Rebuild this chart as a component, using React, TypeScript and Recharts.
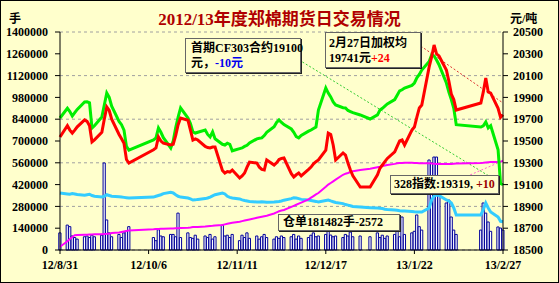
import React from 'react';
import { ComposedChart, Bar, Line, XAxis, YAxis, CartesianGrid, ReferenceLine } from 'recharts';

// trading days, as calendar days counted from 2012-08-31
const tradeDays = [
  0,
  3, 4, 5, 6, 7, 10, 11, 12, 13, 14, 17, 18, 19, 20, 21, 24, 25, 26, 27, 28,
  38, 39, 40, 41, 42, 45, 46, 47, 48, 49, 52, 53, 54, 55, 56, 59, 60, 61,
  62, 63, 66, 67, 68, 69, 70, 73, 74, 75, 76, 77, 80, 81, 82, 83, 84, 87, 88, 89, 90, 91,
  94, 95, 96, 97, 98, 101, 102, 103, 104, 105, 108, 109, 110, 111, 112, 115, 116, 117, 118, 119, 122,
  126, 129, 130, 131, 132, 133, 136, 137, 138, 139, 140, 143, 144, 145, 146, 147, 150, 151, 152, 153,
  154, 157, 158, 159, 160, 161, 171, 172, 173, 174, 175, 178, 179, 180,
];

const tickDays = [0, 36, 72, 108, 144, 180];
const tickLabels = ['12/8/31', '12/10/6', '12/11/11', '12/12/17', '13/1/22', '13/2/27'];
const leftTicks = [0, 140000, 280000, 420000, 560000, 700000, 840000, 980000, 1120000, 1260000, 1400000];
const rightTicks = [18500, 18700, 18900, 19100, 19300, 19500, 19700, 19900, 20100, 20300, 20500];

// 成交量 (手)
const volume = [
  110000,
  160000, 150000, 90000, 80000, 70000, 85000, 90000, 80000, 95000, 85000,
  95000, 559000, 193000, 110000, 85000, 100000, 80000, 110000, 120000, 150000,
  80000, 60000, 130000, 90000, 85000, 100000, 100000, 85000, 237000, 80000,
  110000, 80000, 75000, 95000, 70000, 90000, 80000, 100000,
  70000, 85000, 160000, 90000, 95000, 80000, 100000, 60000, 95000, 80000, 110000, 75000,
  90000, 70000, 85000, 100000, 80000, 70000, 85000, 75000, 90000, 80000,
  85000, 100000, 70000, 90000, 75000, 80000, 95000, 110000, 85000, 90000,
  100000, 140000, 96000, 85000, 90000, 80000, 100000, 90000, 115000, 85000, 90000,
  85000, 110000, 80000, 95000, 75000, 90000, 100000, 128000, 85000, 212000, 100000,
  110000, 120000, 225000, 150000, 128000, 578000, 559000, 597000, 597000,
  400000, 302000, 321000, 212000, 128000, 100000, 128000, 302000, 237000, 180000, 120000,
  148000, 141000, 128000,
];

// 仓单 (手)
const receipts = [
  366000,
  360000, 358000, 362000, 360000, 356000, 352000, 355000, 358000, 350000, 345000,
  340000, 345000, 355000, 350000, 345000, 342000, 340000, 338000, 336000, 334000,
  340000, 345000, 350000, 355000, 362000, 370000, 366000, 355000, 345000, 340000,
  334000, 328000, 321000, 322000, 325000, 330000, 334000, 340000,
  348000, 355000, 366000, 360000, 345000, 338000, 334000, 328000, 322000, 318000, 315000, 312000,
  308000, 308000, 310000, 308000, 306000, 308000, 310000, 312000, 315000, 320000,
  330000, 336000, 334000, 330000, 325000, 321000, 318000, 315000, 312000, 308000,
  318000, 321000, 315000, 310000, 305000, 298000, 292000, 288000, 284000, 280000, 276000,
  272000, 270000, 268000, 266000, 262000, 260000, 257000, 255000, 252000, 250000, 250000,
  247000, 245000, 244000, 244000, 244000, 270000, 321000, 345000, 353000,
  350000, 321000, 315000, 302000, 270000, 225000, 225000, 260000, 302000, 270000, 244000,
  212000, 184054, 181482,
];

// 加权均价 (元/吨)
const weightedAvg = [
  19537,
  19640, 19600, 19573, 19600, 19630, 19693, 19680, 19640, 19491, 19510,
  19580, 19700, 19812, 19780, 19700, 19560, 19520, 19480, 19330, 19298,
  19420, 19436, 19537, 19500, 19480, 19463, 19470, 19550, 19650, 19711,
  19690, 19600, 19509, 19520, 19509, 19450, 19440, 19436,
  19445, 19445, 19230, 19206, 19220, 19215, 19234, 19161, 19180, 19206, 19260, 19307,
  19298, 19260, 19240, 19234, 19326, 19280, 19300, 19330, 19340, 19344,
  19200, 19170, 19190, 19206, 19180, 19240, 19261, 19290, 19310, 19326,
  19417, 19573, 19560, 19463, 19326, 19390, 19370, 19298, 19234, 19180, 19078,
  19078, 19190, 19250, 19280, 19310, 19340, 19400, 19450, 19500, 19509, 19463,
  19600, 19628, 19720, 19803, 19830, 20180, 20271, 20381, 20300,
  20280, 20151, 20050, 19930, 19880, 19784, 19849, 19950, 20078, 19950, 19940,
  19800, 19717, 19741,
];

// 首期合约 (元/吨)
const frontMonth = [
  19711,
  19800, 19770, 19729, 19760, 19790, 19858, 19860, 19850, 19619, 19640,
  19720, 19830, 19940, 19900, 19820, 19680, 19650, 19600, 19450, 19417,
  19510, 19528, 19619, 19580, 19530, 19436, 19500, 19620, 19720, 19803,
  19711, 19660, 19583, 19573, 19580, 19601, 19560, 19537,
  19583, 19520, 19470, 19463, 19480, 19470, 19410, 19430, 19436, 19450, 19460, 19482,
  19520, 19525, 19528, 19550, 19580, 19630, 19670, 19693, 19670, 19650,
  19610, 19580, 19540, 19528, 19550, 19590, 19601, 19615, 19628, 19784,
  19986, 19940, 19904, 19858, 19830, 19805, 19803, 19780, 19770, 19760, 19739,
  19702, 19740, 19784, 19800, 19820, 19840, 19880, 19920, 19960, 19970, 19986,
  20010, 20032, 20080, 20110, 20151, 20230, 20289, 20280, 20243,
  20200, 20032, 19950, 19880, 19800, 19650, 19628, 19640, 19674, 19620, 19640,
  19420, 19110, 19100,
];

// 328指数 (元/吨)
const index328 = [
  18530,
  18580, 18600, 18620, 18635, 18638, 18640, 18640, 18642, 18643, 18645,
  18645, 18647, 18648, 18650, 18655, 18660, 18665, 18670, 18675, 18680,
  18690, 18692, 18693, 18694, 18695, 18697, 18698, 18700, 18700, 18702,
  18705, 18707, 18710, 18711, 18712, 18715, 18718, 18720,
  18722, 18725, 18729, 18735, 18740, 18745, 18750, 18760, 18765, 18770, 18775, 18780,
  18795, 18800, 18805, 18810, 18815, 18835, 18845, 18855, 18862, 18867,
  18895, 18905, 18915, 18925, 18935, 18965, 18980, 18995, 19010, 19023,
  19080, 19100, 19115, 19130, 19145, 19190, 19200, 19206, 19215, 19222, 19234,
  19245, 19260, 19265, 19271, 19275, 19280, 19290, 19295, 19298, 19298, 19300,
  19300, 19298, 19298, 19297, 19296, 19295, 19293, 19292, 19290,
  19290, 19289, 19289, 19290, 19292, 19293, 19298, 19300, 19303, 19305, 19307,
  19308, 19309, 19319,
];

// callout pointers from the note boxes to the last values
const frontPointer = [{ x: 98.5, y: 20225 }, { x: 180, y: 19100 }];
const avgPointer = [{ x: 146.6, y: 20371 }, { x: 180, y: 19849 }];
const indexPointer = [{ x: 163.7, y: 19160 }, { x: 180, y: 19319 }];

const rows = tradeDays.map((day, i) => ({
  day,
  volume: volume[i],
  receipts: receipts[i],
  avg: weightedAvg[i],
  front: frontMonth[i],
  index: index328[i],
}));

const serif = "'Liberation Serif', 'Noto Sans CJK SC', serif";
const tickStyle = { fontSize: 12, fontWeight: 'bold', fill: '#000', fontFamily: serif };

const noteStyle: React.CSSProperties = {
  position: 'absolute',
  background: '#FFFFCC',
  border: '1px solid #666',
  boxShadow: '1px 1px 0 #222',
  fontFamily: serif,
  fontWeight: 'bold',
  fontSize: 12,
  color: '#000',
  whiteSpace: 'nowrap',
  boxSizing: 'border-box',
};

const App = () => {
  return (
    <div style={{ position: 'absolute', left: 0, top: 0, width: 559, height: 283, background: '#FFFFCC', overflow: 'hidden' }}>
      <ComposedChart width={559} height={283} data={rows} margin={{ top: 32, right: 0, bottom: 0, left: 0 }}>
        <CartesianGrid yAxisId="left" vertical={false} stroke="#A0A0A0" strokeDasharray="3 3" />
        <XAxis
          dataKey="day"
          type="number"
          domain={[0, 180]}
          ticks={tickDays}
          tickFormatter={(d: number) => tickLabels[tickDays.indexOf(d)]}
          height={33}
          stroke="#000"
          tickSize={4}
          tickMargin={6}
          tick={tickStyle}
        />
        <YAxis
          yAxisId="left"
          domain={[0, 1400000]}
          ticks={leftTicks}
          width={60}
          stroke="#000"
          tickSize={5}
          tickMargin={7}
          tick={tickStyle}
        />
        <YAxis
          yAxisId="right"
          orientation="right"
          domain={[18500, 20500]}
          ticks={rightTicks}
          width={56}
          stroke="#000"
          tickSize={5}
          tickMargin={5}
          tick={{ ...tickStyle, textAnchor: 'start' }}
        />
        <Bar yAxisId="left" dataKey="volume" barSize={3} fill="#FFFFFF" stroke="#000099" strokeWidth={1} isAnimationActive={false} />
        <ReferenceLine yAxisId="right" segment={frontPointer} stroke="#33CC33" strokeDasharray="2 2" />
        <ReferenceLine yAxisId="right" segment={avgPointer} stroke="#DD3333" strokeDasharray="2 2" />
        <ReferenceLine yAxisId="right" segment={indexPointer} stroke="#FF66CC" strokeDasharray="2 2" />
        <Line yAxisId="left" dataKey="receipts" type="linear" stroke="#33CCFF" strokeWidth={3} dot={false} isAnimationActive={false} />
        <Line yAxisId="right" dataKey="index" type="linear" stroke="#FF00FF" strokeWidth={2} dot={false} isAnimationActive={false} />
        <Line yAxisId="right" dataKey="front" type="linear" stroke="#00EE00" strokeWidth={3} dot={false} isAnimationActive={false} />
        <Line yAxisId="right" dataKey="avg" type="linear" stroke="#FF0000" strokeWidth={3} dot={false} isAnimationActive={false} />
      </ComposedChart>

      <div style={{ position: 'absolute', left: 0, width: 559, top: 5, textAlign: 'center', fontFamily: serif, fontWeight: 'bold', fontSize: 17, color: '#B00000' }}>
        2012/13年度郑棉期货日交易情况
      </div>
      <div style={{ position: 'absolute', left: 9, top: 9, fontFamily: serif, fontWeight: 'bold', fontSize: 12 }}>手</div>
      <div style={{ position: 'absolute', left: 510, top: 9, fontFamily: serif, fontWeight: 'bold', fontSize: 12 }}>元/吨</div>

      <div style={{ ...noteStyle, left: 185, top: 38, width: 116, height: 35, padding: '2px 0 0 5px', lineHeight: '15px' }}>
        <div>首期CF303合约19100</div>
        <div>元，<span style={{ color: '#0000EE' }}>-10元</span></div>
      </div>
      <div style={{ ...noteStyle, left: 325, top: 32, width: 96, height: 36, padding: '3px 0 0 3px', lineHeight: '15px' }}>
        <div>2月27日加权均</div>
        <div>19741元<span style={{ color: '#FF0000' }}>+24</span></div>
      </div>
      <div style={{ ...noteStyle, left: 390, top: 175, width: 109, height: 19, padding: '0 0 0 3px', lineHeight: '17px' }}>
        328指数:19319, <span style={{ color: '#990000' }}>+10</span>
      </div>
      <div style={{ ...noteStyle, left: 278, top: 214, width: 122, height: 17, padding: '0 0 0 4px', lineHeight: '15px' }}>
        仓单181482手-2572
      </div>

      <div style={{ position: 'absolute', left: 0, top: 0, width: 559, height: 283, border: '1px solid #000', boxSizing: 'border-box', pointerEvents: 'none' }} />
    </div>
  );
};

export default App;
